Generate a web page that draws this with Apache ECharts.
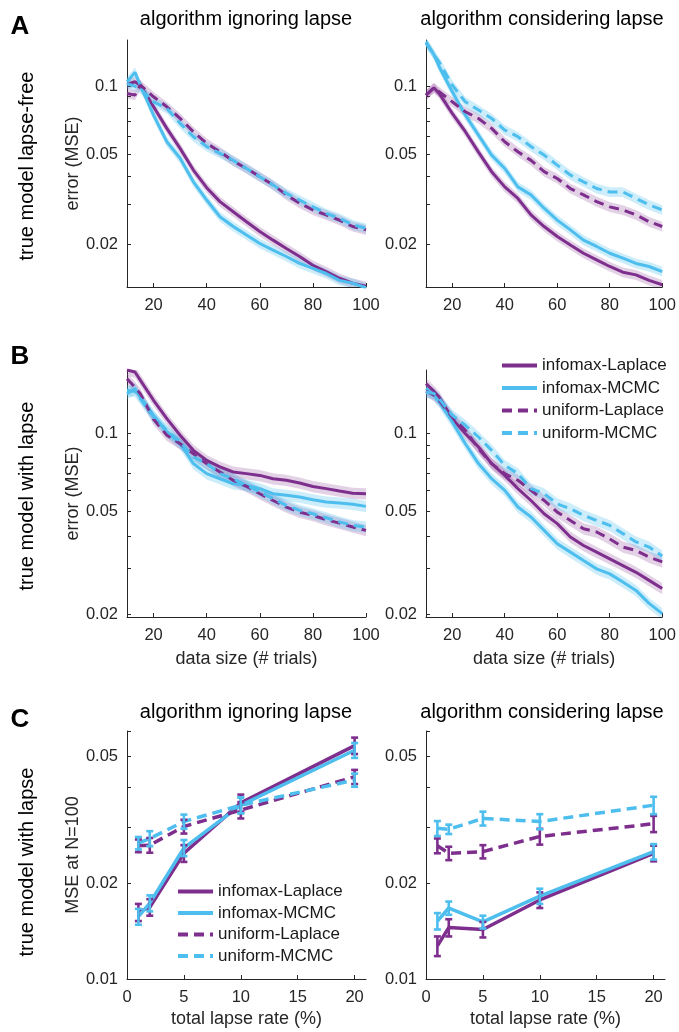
<!DOCTYPE html>
<html>
<head>
<meta charset="utf-8">
<script src="https://cdn.jsdelivr.net/npm/echarts@6/dist/echarts.min.js"></script>
<style>
  html, body { margin: 0; padding: 0; background: #ffffff; }
  #chart { width: 679px; height: 1032px; }
</style>
</head>
<body>
<div id="chart"></div>
<script>
// ---- data ---------------------------------------------------------------
const trials = [10, 13, 15, 20, 25, 30, 35, 40, 45, 50, 55, 60, 65, 70, 75, 80, 85, 90, 95, 100];
const lapseRates = [1, 2, 5, 10, 20];
const methodNames = ['infomax-Laplace', 'infomax-MCMC', 'uniform-Laplace', 'uniform-MCMC'];

// A: true model lapse-free, algorithm ignoring lapse (MSE vs trials)
const aIgnInfomaxLaplace = [0.1017, 0.1045, 0.101, 0.081, 0.065, 0.053, 0.0425, 0.0355, 0.0308, 0.0278, 0.0251, 0.0227, 0.0208, 0.0191, 0.0176, 0.0161, 0.0151, 0.0141, 0.0134, 0.0130];
const aIgnInfomaxMCMC    = [0.1045, 0.115, 0.101, 0.0744, 0.0567, 0.0479, 0.0377, 0.0313, 0.0264, 0.0239, 0.0219, 0.0201, 0.0188, 0.0176, 0.0164, 0.0156, 0.0148, 0.0138, 0.0134, 0.0128];
const aIgnUniformLaplace = [0.0928, 0.0912, 0.101, 0.0897, 0.081, 0.072, 0.0628, 0.0558, 0.0512, 0.0466, 0.0432, 0.0397, 0.0365, 0.033, 0.0303, 0.0283, 0.0269, 0.0255, 0.0239, 0.0231];
const aIgnUniformMCMC    = [0.1026, 0.1, 0.0976, 0.0852, 0.0797, 0.0684, 0.0597, 0.054, 0.0504, 0.0469, 0.0432, 0.0397, 0.0365, 0.0335, 0.0313, 0.0292, 0.0273, 0.026, 0.0243, 0.0235];

// A: true model lapse-free, algorithm considering lapse
const aConInfomaxLaplace = [0.0912, 0.0983, 0.0928, 0.0757, 0.0628, 0.051, 0.0418, 0.0358, 0.0318, 0.0269, 0.0239, 0.0216, 0.0198, 0.0182, 0.0170, 0.0159, 0.0150, 0.0146, 0.0138, 0.0132];
const aConInfomaxMCMC    = [0.157, 0.138, 0.1218, 0.0944, 0.0744, 0.0607, 0.0495, 0.0432, 0.0358, 0.033, 0.0288, 0.0255, 0.0231, 0.0208, 0.0195, 0.0182, 0.0173, 0.0164, 0.0159, 0.0151];
const aConUniformLaplace = [0.0912, 0.0983, 0.0944, 0.0852, 0.077, 0.0719, 0.065, 0.0567, 0.0512, 0.0469, 0.0418, 0.039, 0.0352, 0.033, 0.0308, 0.0292, 0.0283, 0.0269, 0.0251, 0.0239];
const aConUniformMCMC    = [0.155, 0.138, 0.128, 0.101, 0.0852, 0.0783, 0.0719, 0.0639, 0.0597, 0.054, 0.0495, 0.0447, 0.0404, 0.0377, 0.0352, 0.034, 0.034, 0.0318, 0.0298, 0.0283];

// B: true model with lapse, algorithm ignoring lapse
const bIgnInfomaxLaplace = [0.175, 0.172, 0.16, 0.1337, 0.1136, 0.098, 0.0857, 0.0784, 0.074, 0.0707, 0.0697, 0.0686, 0.0666, 0.0657, 0.0641, 0.0622, 0.061, 0.0597, 0.0586, 0.0583];
const bIgnInfomaxMCMC    = [0.1418, 0.148, 0.1377, 0.117, 0.101, 0.0909, 0.0762, 0.0697, 0.0666, 0.0637, 0.0628, 0.061, 0.0583, 0.0575, 0.0566, 0.0553, 0.0542, 0.0537, 0.0531, 0.0521];
const bIgnUniformLaplace = [0.162, 0.150, 0.1418, 0.113, 0.098, 0.0909, 0.0832, 0.0762, 0.0707, 0.0657, 0.0622, 0.0583, 0.0549, 0.0518, 0.0495, 0.0481, 0.0463, 0.0449, 0.0434, 0.0421];
const bIgnUniformMCMC    = [0.146, 0.145, 0.1357, 0.1153, 0.1024, 0.0923, 0.0808, 0.0762, 0.0697, 0.0666, 0.0628, 0.0592, 0.0558, 0.0526, 0.0503, 0.0488, 0.0471, 0.0454, 0.0440, 0.0434];

// B: true model with lapse, algorithm considering lapse
const bConInfomaxLaplace = [0.155, 0.145, 0.1377, 0.1136, 0.0994, 0.0883, 0.0762, 0.0686, 0.061, 0.0549, 0.0488, 0.0447, 0.0397, 0.0368, 0.0347, 0.0327, 0.0308, 0.029, 0.027, 0.0251];
const bConInfomaxMCMC    = [0.1483, 0.14, 0.1317, 0.1103, 0.0909, 0.0762, 0.0666, 0.0601, 0.0518, 0.0474, 0.0421, 0.0374, 0.0347, 0.0322, 0.0299, 0.0286, 0.0266, 0.0247, 0.022, 0.0201];
const bConUniformLaplace = [0.145, 0.14, 0.1337, 0.1153, 0.1024, 0.087, 0.0762, 0.0697, 0.0657, 0.0601, 0.0549, 0.0495, 0.046, 0.0427, 0.0415, 0.039, 0.0363, 0.0352, 0.0332, 0.0318];
const bConUniformMCMC    = [0.144, 0.142, 0.1357, 0.117, 0.1071, 0.0965, 0.0857, 0.075, 0.0697, 0.061, 0.0583, 0.0533, 0.051, 0.0481, 0.046, 0.044, 0.0409, 0.038, 0.0363, 0.0335];

// relative half-width of the shaded error band around each curve
const bandHalfWidth = 0.05;

// C: MSE at N=100 vs total lapse rate, with error bars (half-widths)
const cIgnInfomaxLaplace = [0.0162, 0.0168, 0.0248, 0.0357, 0.0540];
const cIgnInfomaxLaplaceErr = [0.0010, 0.0010, 0.0015, 0.0022, 0.0032];
const cIgnInfomaxMCMC = [0.0157, 0.0173, 0.0258, 0.0351, 0.0522];
const cIgnInfomaxMCMCErr = [0.0009, 0.0010, 0.0015, 0.0020, 0.0028];
const cIgnUniformLaplace = [0.0262, 0.0263, 0.0301, 0.0339, 0.0431];
const cIgnUniformLaplaceErr = [0.0012, 0.0014, 0.0015, 0.0020, 0.0022];
const cIgnUniformMCMC = [0.0267, 0.0276, 0.0312, 0.0351, 0.0421];
const cIgnUniformMCMCErr = [0.0012, 0.0015, 0.0016, 0.0020, 0.0020];

const cConInfomaxLaplace = [0.0127, 0.0145, 0.0143, 0.0177, 0.0248];
const cConInfomaxLaplaceErr = [0.0009, 0.0009, 0.0008, 0.0010, 0.0014];
const cConInfomaxMCMC = [0.0152, 0.0167, 0.0151, 0.0182, 0.0251];
const cConInfomaxMCMCErr = [0.0009, 0.0008, 0.0007, 0.0010, 0.0014];
const cConUniformLaplace = [0.0262, 0.0248, 0.0251, 0.0280, 0.0307];
const cConUniformLaplaceErr = [0.0014, 0.0012, 0.0012, 0.0016, 0.0018];
const cConUniformMCMC = [0.0297, 0.0295, 0.0319, 0.0312, 0.0351];
const cConUniformMCMCErr = [0.0016, 0.0010, 0.0016, 0.0017, 0.0022];

// axis ticks
const trialTicks = [20, 40, 60, 80, 100];
const lapseTicks = [0, 5, 10, 15, 20];
const mseLabelsAB = [0.02, 0.05, 0.1];
const mseMinorAB = [0.03, 0.04, 0.06, 0.07, 0.08, 0.09];
const mseLabelsC = [0.01, 0.02, 0.05];
const mseMinorC = [0.03, 0.04, 0.06];

// ---- styling ------------------------------------------------------------
const FONT = '"Liberation Sans", Arial, Helvetica, sans-serif';
const INK = '#262626';
const PURPLE = '#7E2F8E';
const BLUE = '#4DBEEE';
const methodColor = [PURPLE, BLUE, PURPLE, BLUE];
const bandFill = ['rgba(126,47,142,0.22)', 'rgba(77,190,238,0.28)', 'rgba(126,47,142,0.22)', 'rgba(77,190,238,0.28)'];
const methodDashed = [false, false, true, true];
const DASH = [10, 6];

const lg = Math.log10;
const fmtMse = v => String(parseFloat(Math.pow(10, v).toPrecision(2)));

const grids = [
  { left: 127, top: 40,  width: 239, height: 247 },   // A ignoring
  { left: 426, top: 40,  width: 237, height: 247 },   // A considering
  { left: 127, top: 370, width: 239, height: 247 },   // B ignoring
  { left: 426, top: 370, width: 237, height: 247 },   // B considering
  { left: 127, top: 731, width: 239, height: 248 },   // C ignoring
  { left: 426, top: 731, width: 239, height: 248 }    // C considering
];

function xAxisFor(gi, min, max, ticks, name) {
  return {
    type: 'value', gridIndex: gi, min: min, max: max,
    axisLine: { show: true, onZero: false, lineStyle: { color: INK, width: 1 } },
    axisTick: { show: true, inside: true, length: 4, customValues: ticks, lineStyle: { color: INK } },
    axisLabel: { customValues: ticks, color: INK, fontSize: 16.5, margin: 10, fontFamily: FONT },
    splitLine: { show: false },
    name: name || '', nameLocation: 'middle', nameGap: 33,
    nameTextStyle: { fontSize: 18, color: INK, fontFamily: FONT }
  };
}

function yAxisFor(gi, min, max, labels, minor, name) {
  return {
    type: 'value', gridIndex: gi, min: lg(min), max: lg(max),
    axisLine: { show: true, onZero: false, lineStyle: { color: INK, width: 1 } },
    axisTick: { show: true, inside: true, length: 4,
      customValues: labels.concat(minor).map(lg), lineStyle: { color: INK } },
    axisLabel: { customValues: labels.map(lg), formatter: fmtMse, color: INK,
      fontSize: 16.5, margin: 9, fontFamily: FONT },
    splitLine: { show: false },
    name: name || '', nameLocation: 'middle', nameGap: 44,
    nameTextStyle: { fontSize: 18, color: INK, fontFamily: FONT }
  };
}

const xAxes = [
  xAxisFor(0, 10, 100, trialTicks),
  xAxisFor(1, 10, 100, trialTicks),
  xAxisFor(2, 10, 100, trialTicks, 'data size (# trials)'),
  xAxisFor(3, 10, 100, trialTicks, 'data size (# trials)'),
  xAxisFor(4, 0, 21, lapseTicks, 'total lapse rate (%)'),
  xAxisFor(5, 0, 21, lapseTicks, 'total lapse rate (%)')
];
xAxes[4].nameGap = 31; xAxes[5].nameGap = 31;

const yAxes = [
  yAxisFor(0, 0.0129, 0.16, mseLabelsAB, mseMinorAB, 'error (MSE)'),
  yAxisFor(1, 0.0129, 0.16, mseLabelsAB, mseMinorAB),
  yAxisFor(2, 0.0195, 0.175, mseLabelsAB, mseMinorAB, 'error (MSE)'),
  yAxisFor(3, 0.0195, 0.175, mseLabelsAB, mseMinorAB),
  yAxisFor(4, 0.01, 0.06, mseLabelsC, mseMinorC, 'MSE at N=100'),
  yAxisFor(5, 0.01, 0.06, mseLabelsC, mseMinorC)
];

const series = [];

// curves with shaded bands (panels A and B)
const curvePanels = [
  [aIgnInfomaxLaplace, aIgnInfomaxMCMC, aIgnUniformLaplace, aIgnUniformMCMC],
  [aConInfomaxLaplace, aConInfomaxMCMC, aConUniformLaplace, aConUniformMCMC],
  [bIgnInfomaxLaplace, bIgnInfomaxMCMC, bIgnUniformLaplace, bIgnUniformMCMC],
  [bConInfomaxLaplace, bConInfomaxMCMC, bConUniformLaplace, bConUniformMCMC]
];

// band polygon: drawn once from all rows of the series data
function bandRenderer(fill) {
  return (params, api) => {
    if (params.dataIndexInside !== 0) return null;
    const n = params.dataInsideLength;
    const upper = [], lower = [];
    for (let j = 0; j < n; j++) {
      const x = api.value(0, j);
      lower.push(api.coord([x, api.value(1, j)]));
      upper.push(api.coord([x, api.value(2, j)]));
    }
    return { type: 'polygon', shape: { points: upper.concat(lower.reverse()) }, style: { fill: fill } };
  };
}

curvePanels.forEach((curves, gi) => {
  curves.forEach((vals, k) => {
    series.push({
      type: 'custom', xAxisIndex: gi, yAxisIndex: gi, silent: true, clip: true, z: 1,
      data: trials.map((t, i) => [t, lg(vals[i] * (1 - bandHalfWidth)), lg(vals[i] * (1 + bandHalfWidth))]),
      encode: { x: 0, y: [1, 2] },
      renderItem: bandRenderer(bandFill[k])
    });
  });
  curves.forEach((vals, k) => {
    series.push({
      type: 'line', name: methodNames[k], xAxisIndex: gi, yAxisIndex: gi,
      data: trials.map((t, i) => [t, lg(vals[i])]),
      symbol: 'none', z: 3,
      itemStyle: { color: methodColor[k] },
      lineStyle: { color: methodColor[k], width: 3, type: methodDashed[k] ? DASH : 'solid' }
    });
  });
});

// lapse-rate panels (C) with error bars
const lapsePanels = [
  { gi: 4, vals: [cIgnInfomaxLaplace, cIgnInfomaxMCMC, cIgnUniformLaplace, cIgnUniformMCMC],
    errs: [cIgnInfomaxLaplaceErr, cIgnInfomaxMCMCErr, cIgnUniformLaplaceErr, cIgnUniformMCMCErr] },
  { gi: 5, vals: [cConInfomaxLaplace, cConInfomaxMCMC, cConUniformLaplace, cConUniformMCMC],
    errs: [cConInfomaxLaplaceErr, cConInfomaxMCMCErr, cConUniformLaplaceErr, cConUniformMCMCErr] }
];

lapsePanels.forEach(p => {
  p.vals.forEach((vals, k) => {
    series.push({
      type: 'line', name: methodNames[k], xAxisIndex: p.gi, yAxisIndex: p.gi,
      data: lapseRates.map((r, i) => [r, lg(vals[i])]),
      symbol: 'none', z: 3,
      itemStyle: { color: methodColor[k] },
      lineStyle: { color: methodColor[k], width: 3.5, type: methodDashed[k] ? DASH : 'solid' }
    });
    const color = methodColor[k];
    series.push({
      type: 'custom', xAxisIndex: p.gi, yAxisIndex: p.gi, silent: true, z: 4,
      data: lapseRates.map((r, i) => [r, lg(vals[i] - p.errs[k][i]), lg(vals[i] + p.errs[k][i])]),
      encode: { x: 0, y: [1, 2] },
      renderItem: (params, api) => {
        const x = api.value(0);
        const lo = api.coord([x, api.value(1)]);
        const hi = api.coord([x, api.value(2)]);
        const cap = 3.5;
        const st = { stroke: color, lineWidth: 2.6 };
        return {
          type: 'group',
          children: [
            { type: 'line', shape: { x1: lo[0], y1: lo[1], x2: hi[0], y2: hi[1] }, style: st },
            { type: 'line', shape: { x1: lo[0] - cap, y1: lo[1], x2: lo[0] + cap, y2: lo[1] }, style: st },
            { type: 'line', shape: { x1: hi[0] - cap, y1: hi[1], x2: hi[0] + cap, y2: hi[1] }, style: st }
          ]
        };
      }
    });
  });
});

function legendAt(left, top, fontSize, gap) {
  return {
    data: methodNames, left: left, top: top, orient: 'vertical', padding: 0,
    itemWidth: 35, itemHeight: 14, itemGap: gap, selectedMode: false,
    textStyle: { fontSize: fontSize, color: '#1a1a1a', fontFamily: FONT },
    lineStyle: { width: 4 },
    itemStyle: { opacity: 0 }
  };
}

function label(text, x, y, size, opts) {
  return Object.assign({
    type: 'text', x: x, y: y, silent: true,
    style: { text: text, font: size + 'px ' + FONT, fill: '#000',
      textAlign: 'center', textVerticalAlign: 'middle', align: 'center', verticalAlign: 'middle' }
  }, opts || {});
}

const graphics = [
  label('A', 20, 27, 'bold 26'),
  label('B', 20, 357, 'bold 26'),
  label('C', 20, 720, 'bold 26'),
  label('algorithm ignoring lapse', 246, 19, 20),
  label('algorithm considering lapse', 542, 19, 20),
  label('algorithm ignoring lapse', 246, 712, 20),
  label('algorithm considering lapse', 542, 712, 20),
  label('true model lapse-free', 27, 166, 20, { rotation: Math.PI / 2 }),
  label('true model with lapse', 27, 496, 20, { rotation: Math.PI / 2 }),
  label('true model with lapse', 27, 862, 20, { rotation: Math.PI / 2 })
];

const chart = echarts.init(document.getElementById('chart'), null, { renderer: 'canvas' });
chart.setOption({
  animation: false,
  backgroundColor: '#ffffff',
  textStyle: { fontFamily: FONT },
  grid: grids,
  xAxis: xAxes,
  yAxis: yAxes,
  legend: [legendAt(500, 357, 17, 5.5), legendAt(176, 883, 17, 4.5)],
  graphic: graphics,
  series: series
});
</script>
</body>
</html>
